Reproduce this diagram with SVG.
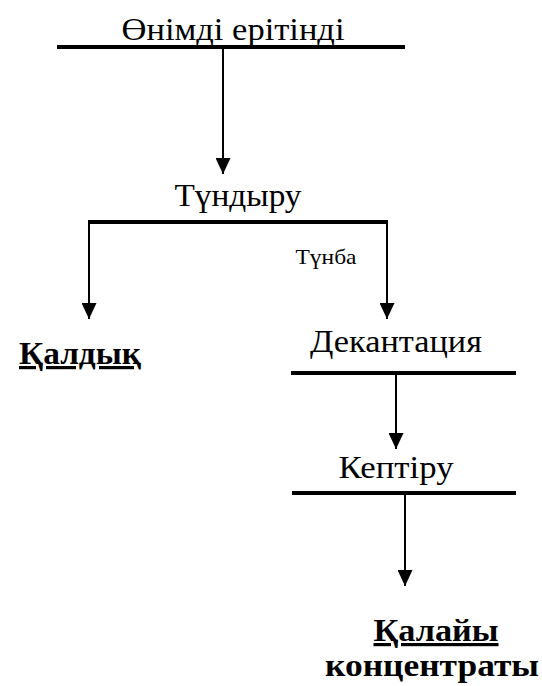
<svg xmlns="http://www.w3.org/2000/svg" width="542" height="686" viewBox="0 0 542 686">
  <style>
    text { font-family: 'Liberation Serif', 'Times New Roman', serif; fill: #000; }
    .lbl { font-size: 32px; text-anchor: middle; }
    .small { font-size: 21px; text-anchor: middle; }
    .bold { font-size: 32px; font-weight: bold; text-anchor: middle; }
    .bar { stroke: #000; stroke-width: 4; }
    .wire { stroke: #000; stroke-width: 2; fill: none; }
  </style>
  <defs>
    <marker id="arrow" viewBox="0 0 16 15" refX="16" refY="7.5" markerWidth="16" markerHeight="15" markerUnits="userSpaceOnUse" orient="auto">
      <path d="M0,0 L16,7.5 L0,15 z" fill="#000"/>
    </marker>
  </defs>
  <rect width="542" height="686" fill="#fff"/>

  <g id="connectors">
    <line class="wire" x1="223" y1="49" x2="223" y2="174" marker-end="url(#arrow)"/>
    <line class="wire" x1="89" y1="222" x2="89" y2="319" marker-end="url(#arrow)"/>
    <line class="wire" x1="387" y1="222" x2="387" y2="319" marker-end="url(#arrow)"/>
    <line class="wire" x1="396" y1="375" x2="396" y2="449" marker-end="url(#arrow)"/>
    <line class="wire" x1="405" y1="495" x2="405" y2="586" marker-end="url(#arrow)"/>
    <text class="small" x="326" y="264" textLength="61" lengthAdjust="spacingAndGlyphs">Түнба</text>
  </g>

  <g id="solution">
    <text class="lbl" x="233" y="40" textLength="223" lengthAdjust="spacingAndGlyphs">Өнімді ерітінді</text>
    <line class="bar" x1="57" y1="47" x2="405" y2="47"/>
  </g>

  <g id="precipitation">
    <text class="lbl" x="238" y="206" textLength="127" lengthAdjust="spacingAndGlyphs">Түндыру</text>
    <line class="bar" x1="88" y1="222" x2="388" y2="222"/>
  </g>

  <g id="residue">
    <text class="bold" x="80" y="364" textLength="122" lengthAdjust="spacingAndGlyphs" text-decoration="underline">Қалдық</text>
  </g>

  <g id="decantation">
    <text class="lbl" x="396" y="352" textLength="172" lengthAdjust="spacingAndGlyphs">Декантация</text>
    <line class="bar" x1="291" y1="373" x2="516" y2="373"/>
  </g>

  <g id="drying">
    <text class="lbl" x="396" y="478" textLength="115" lengthAdjust="spacingAndGlyphs">Кептіру</text>
    <line class="bar" x1="292" y1="493" x2="516" y2="493"/>
  </g>

  <g id="concentrate">
    <text class="bold" x="436" y="641" textLength="125" lengthAdjust="spacingAndGlyphs" text-decoration="underline">Қалайы</text>
    <text class="bold" x="432" y="676" textLength="214" lengthAdjust="spacingAndGlyphs">концентраты</text>
  </g>
</svg>
